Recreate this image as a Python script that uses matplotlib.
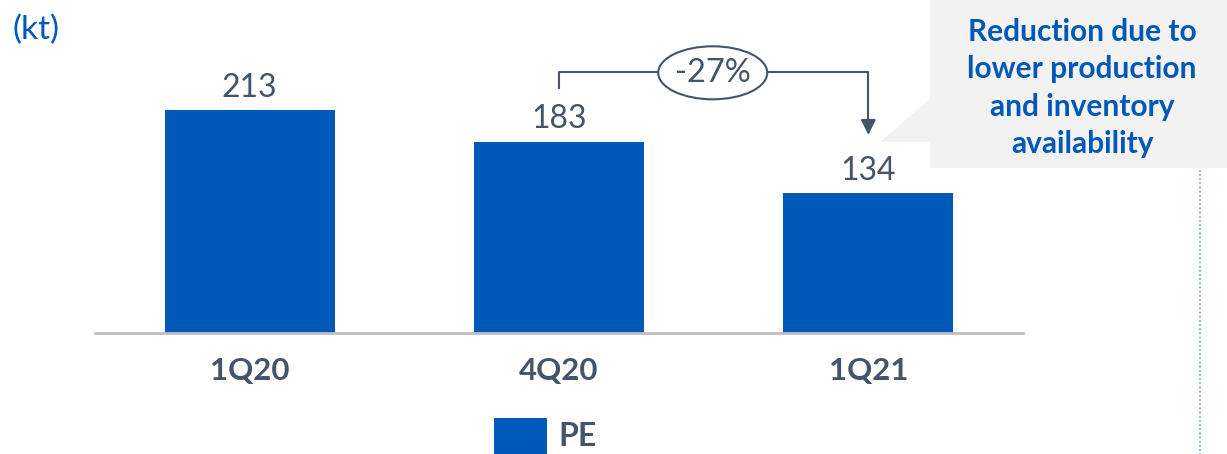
import matplotlib.pyplot as plt
from matplotlib.patches import Ellipse, Polygon, Rectangle

# PE sales volume (kt)
quarters = ["1Q20", "4Q20", "1Q21"]
pe_kt = [213, 183, 134]
change_label = "-27%"
callout = "Reduction due to\nlower production\nand inventory\navailability"

blue = "#0058B8"
slate = "#44546A"
plt.rcParams["font.family"] = ["Lato", "DejaVu Sans"]

W, H = 1227, 454
fig = plt.figure(figsize=(W / 100, H / 100), dpi=100)

# background layer in pixel coords (callout box, dotted divider)
bg = fig.add_axes([0, 0, 1, 1], zorder=0)
bg.set_xlim(0, W)
bg.set_ylim(H, 0)
bg.axis("off")
bg.add_patch(Rectangle((930, 0), 297, 168, facecolor="#F2F2F2", edgecolor="none"))
bg.add_patch(Polygon([(931, 98), (880, 142), (931, 142)], closed=True, facecolor="#F2F2F2", edgecolor="none"))
bg.plot([1200, 1200], [170, 454], color="#5B9BD5", lw=1.2, ls=(0, (1, 1.5)))

# main axes: baseline at y=333px, x from 95 to 1023px
ax = fig.add_axes([95 / W, (H - 333) / H, 928 / W, 333 / H], zorder=1)
ax.patch.set_alpha(0)
x = range(len(quarters))
ax.bar(x, pe_kt, width=0.55, color=blue, zorder=2)
ax.set_xlim(-0.5, 2.5)
ax.set_ylim(0, 333 / 1.045)
for s in ["top", "left", "right"]:
    ax.spines[s].set_visible(False)
ax.spines["bottom"].set_color("#BFBFBF")
ax.spines["bottom"].set_linewidth(2)
ax.set_yticks([])
ax.set_xticks(list(x))
ax.set_xticklabels(quarters, fontsize=22.5, fontweight="bold", color=slate)
ax.tick_params(axis="x", length=0, pad=17)
for i, v in enumerate(pe_kt):
    ax.text(i, v + 7, str(v), ha="center", va="bottom", fontsize=23, color=slate)

# bracket from 4Q20 to 1Q21 with -27%
ytop = 250
ax.plot([1, 1, 2, 2], [pe_kt[1] + 51, ytop, ytop, pe_kt[2] + 66], color=slate, lw=1.5, zorder=3)
ax.annotate("", xy=(2, pe_kt[2] + 53), xytext=(2, pe_kt[2] + 67),
            arrowprops=dict(arrowstyle="-|>,head_length=0.9,head_width=0.45", color=slate, lw=1.5))
ell = Ellipse((1.497, ytop - 1), 109 / 309.3, 53 / 1.045, facecolor="white",
              edgecolor=slate, lw=1.5, zorder=4)
ax.add_patch(ell)
ax.text(1.497, ytop - 1, change_label, ha="center", va="center", fontsize=23.5, color=slate, zorder=5)

# foreground text layer
ov = fig.add_axes([0, 0, 1, 1], zorder=5)
ov.set_xlim(0, W)
ov.set_ylim(H, 0)
ov.axis("off")
ov.text(1082, 88, callout, ha="center", va="center", fontsize=21.5, fontweight="bold",
        color=blue, linespacing=1.42)
ov.text(12, 30, "(kt)", ha="left", va="center", fontsize=24, color=blue)
ov.add_patch(Rectangle((494, 418), 53, 36, facecolor=blue, edgecolor="none"))
ov.text(558, 437, "PE", ha="left", va="center", fontsize=23, fontweight="bold", color=slate)

fig.savefig("out.png", dpi=100)
